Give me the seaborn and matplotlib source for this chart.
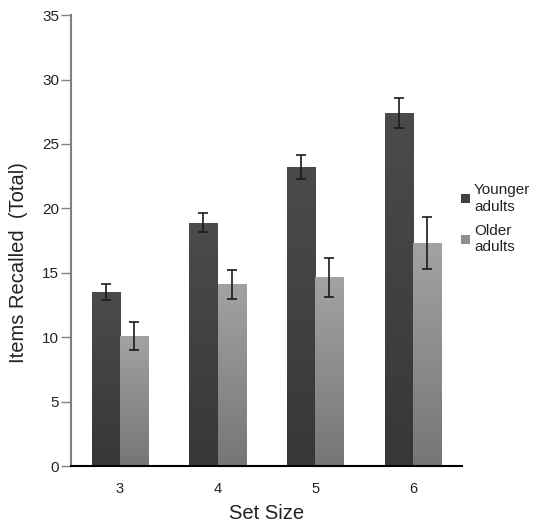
import matplotlib
matplotlib.use('Agg')
import matplotlib.pyplot as plt
import numpy as np
import pandas as pd
import seaborn as sns
from matplotlib.colors import LinearSegmentedColormap

# data
set_sizes = ['3', '4', '5', '6']
younger = [13.5, 18.9, 23.2, 27.4]
younger_err = [0.6, 0.75, 0.95, 1.15]
older = [10.1, 14.1, 14.65, 17.3]
older_err = [1.05, 1.1, 1.5, 2.0]
groups = ['Younger\nadults', 'Older\nadults']

df = pd.DataFrame({
    'set_size': set_sizes * 2,
    'recalled': younger + older,
    'err': younger_err + older_err,
    'group': [groups[0]] * 4 + [groups[1]] * 4,
})

sns.set_style('white')
plt.rcParams['font.family'] = ['Liberation Sans', 'DejaVu Sans']

fig = plt.figure(figsize=(5.34, 5.22), dpi=100)
ax = fig.add_axes([0.133, 0.107, 0.732, 0.864])

sns.barplot(data=df, x='set_size', y='recalled', hue='group',
            palette=['#404040', '#8e8e8e'], saturation=1, width=0.58,
            errorbar=None, linewidth=0, ax=ax)

# vertical shading of the bars (lighter at the top), clipped to each bar
shades = [('#4b4b4b', '#373737'), ('#a2a2a2', '#767676')]
for cont, (top_c, bot_c) in zip(ax.containers, shades):
    cmap = LinearSegmentedColormap.from_list('g', [bot_c, top_c])
    for b in cont:
        x0, w, h = b.get_x(), b.get_width(), b.get_height()
        im = ax.imshow(np.linspace(0, 1, 100).reshape(-1, 1), cmap=cmap,
                       origin='lower', aspect='auto',
                       extent=[x0, x0 + w, 0, h], zorder=b.get_zorder())
        im.set_clip_path(b)

# error bars on top of each bar
for cont, (_, sub) in zip(ax.containers, df.groupby('group', sort=False)):
    xs = [b.get_x() + b.get_width() / 2 for b in cont]
    ax.errorbar(xs, sub['recalled'], yerr=sub['err'], fmt='none',
                ecolor='#1a1a1a', elinewidth=1.2, capsize=3.5, capthick=1.2,
                zorder=5)

ax.set_ylim(0, 35)
ax.set_xlim(-0.5, 3.5)
ax.set_yticks(range(0, 36, 5))
ax.set_xlabel('Set Size', fontsize=14.5, color='#222222', labelpad=6)
ax.set_ylabel('Items Recalled  (Total)', fontsize=14.5, color='#222222')
ax.yaxis.set_label_coords(-0.11, 0.452)
ax.tick_params(axis='y', left=True, length=7, width=1, color='#808080',
               labelsize=11, labelcolor='#222222', pad=1.5)
ax.tick_params(axis='x', bottom=False, labelsize=10.5, labelcolor='#222222', pad=8)
sns.despine(ax=ax)
ax.spines['left'].set_color('#808080')
ax.spines['left'].set_linewidth(1.5)
ax.spines['bottom'].set_color('black')
ax.spines['bottom'].set_linewidth(1.5)

ax.legend(loc='upper left', bbox_to_anchor=(0.998, 0.627), frameon=False,
          fontsize=11, handlelength=0.55, handleheight=0.55,
          handletextpad=0.3, labelspacing=0.7, borderpad=0,
          borderaxespad=0, labelcolor='#222222')

fig.savefig('out.png', dpi=100)
